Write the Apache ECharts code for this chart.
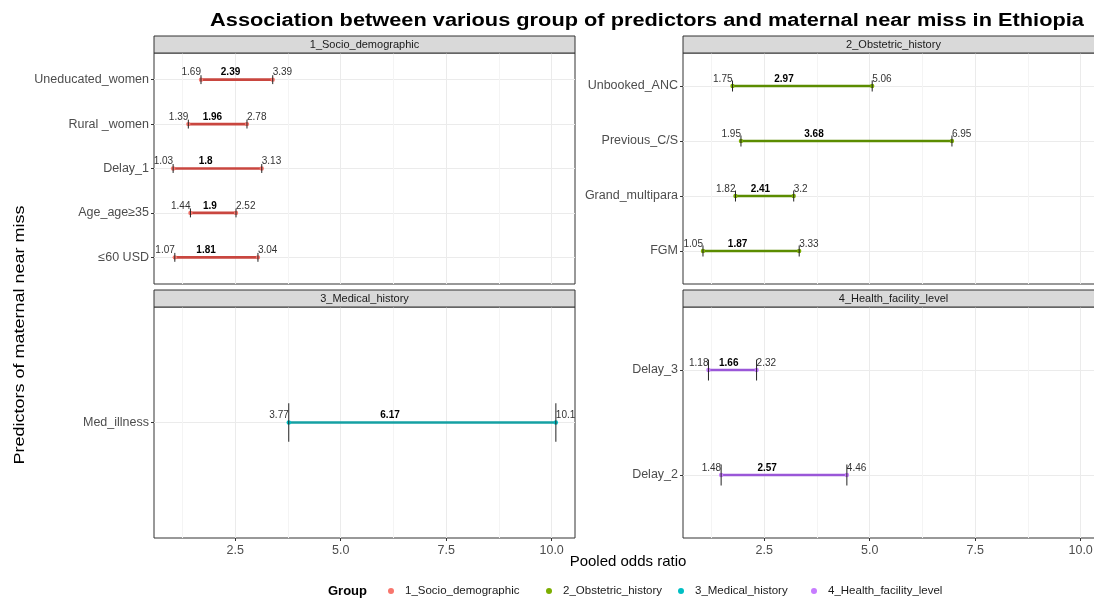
<!DOCTYPE html>
<html lang="en">
<head>
  <meta charset="UTF-8">
  <title>Maternal near miss predictors</title>
  <script src="https://cdn.jsdelivr.net/npm/echarts@6/dist/echarts.min.js"></script>
  <style>
    html, body { margin: 0; padding: 0; background: #fff; }
    #chart { width: 1094px; height: 598px; }
  </style>
</head>
<body>
  <div id="chart"></div>
  <script>
    // data
    const groups = ['1_Socio_demographic', '2_Obstetric_history', '3_Medical_history', '4_Health_facility_level']

    const socioCats = ['Uneducated_women', 'Rural _women', 'Delay_1', 'Age_age≥35', '≤60 USD']
    const socioLow = [1.69, 1.39, 1.03, 1.44, 1.07]
    const socioOR = [2.39, 1.96, 1.8, 1.9, 1.81]
    const socioHigh = [3.39, 2.78, 3.13, 2.52, 3.04]

    const obstCats = ['Unbooked_ANC', 'Previous_C/S', 'Grand_multipara', 'FGM']
    const obstLow = [1.75, 1.95, 1.82, 1.05]
    const obstOR = [2.97, 3.68, 2.41, 1.87]
    const obstHigh = [5.06, 6.95, 3.2, 3.33]

    const medCats = ['Med_illness']
    const medLow = [3.77]
    const medOR = [6.17]
    const medHigh = [10.1]

    const facCats = ['Delay_3', 'Delay_2']
    const facLow = [1.18, 1.48]
    const facOR = [1.66, 2.57]
    const facHigh = [2.32, 4.46]

    const xTicks = [2.5, 5, 7.5, 10]
    const xMinor = [1.25, 3.75, 6.25, 8.75]

    // styles
    const pointColors = ['#F8766D', '#7CAE00', '#00BFC4', '#C77CFF']
    const lineColors = ['#c9463f', '#5b8c00', '#15a0a3', '#9a57d8']
    const font = '"Liberation Sans", Arial, sans-serif'

    const panels = [
      { cats: socioCats, low: socioLow, or: socioOR, high: socioHigh, left: 154, top: 53, bottomRow: false },
      { cats: obstCats, low: obstLow, or: obstOR, high: obstHigh, left: 683, top: 53, bottomRow: false },
      { cats: medCats, low: medLow, or: medOR, high: medHigh, left: 154, top: 307, bottomRow: true },
      { cats: facCats, low: facLow, or: facOR, high: facHigh, left: 683, top: 307, bottomRow: true }
    ]
    const panelW = 421, panelH = 231, stripH = 17

    // shared x range, ggplot style 5% expansion
    const allX = [].concat(socioLow, socioHigh, obstLow, obstHigh, medLow, medHigh, facLow, facHigh)
    const dMin = Math.min(...allX), dMax = Math.max(...allX)
    const xMin = dMin - 0.05 * (dMax - dMin)
    const xMax = dMax + 0.05 * (dMax - dMin)

    function renderBar(params, api) {
      const lo = api.value(0), mid = api.value(1), hi = api.value(2), y = api.value(3)
      const pL = api.coord([lo, y])
      const pM = api.coord([mid, y])
      const pH = api.coord([hi, y])
      const half = Math.abs(api.coord([lo, y + 0.1])[1] - api.coord([lo, y - 0.1])[1]) / 2
      const i = params.seriesIndex
      const lineC = lineColors[i], ptC = pointColors[i]
      const txtY = pL[1] - 2
      return {
        type: 'group',
        children: [
          { type: 'line', shape: { x1: pL[0], y1: pL[1], x2: pH[0], y2: pH[1] }, style: { stroke: lineC, lineWidth: 2.6 } },
          { type: 'circle', shape: { cx: pL[0], cy: pL[1], r: 2.2 }, style: { fill: ptC } },
          { type: 'circle', shape: { cx: pH[0], cy: pH[1], r: 2.2 }, style: { fill: ptC } },
          { type: 'line', shape: { x1: pL[0], y1: pL[1] - half, x2: pL[0], y2: pL[1] + half }, style: { stroke: '#222', lineWidth: 1 } },
          { type: 'line', shape: { x1: pH[0], y1: pH[1] - half, x2: pH[0], y2: pH[1] + half }, style: { stroke: '#222', lineWidth: 1 } },
          { type: 'text', x: pL[0], y: txtY, style: { text: String(lo), align: 'right', verticalAlign: 'bottom', fontSize: 10, fontFamily: font, fill: '#333' } },
          { type: 'text', x: pM[0], y: txtY, style: { text: String(mid), align: 'center', verticalAlign: 'bottom', fontSize: 10, fontWeight: 'bold', fontFamily: font, fill: '#000' } },
          { type: 'text', x: pH[0], y: txtY, style: { text: String(hi), align: 'left', verticalAlign: 'bottom', fontSize: 10, fontFamily: font, fill: '#333' } }
        ]
      }
    }

    const grid = [], xAxis = [], yAxis = [], series = [], graphic = [], legend = []

    panels.forEach((p, i) => {
      grid.push({
        left: p.left, top: p.top, width: panelW, height: panelH,
        outerBoundsMode: 'none',
        show: true, backgroundColor: '#fff', borderColor: '#333', borderWidth: 1
      })
      // major x
      xAxis.push({
        type: 'value', gridIndex: i, min: xMin, max: xMax, position: 'bottom',
        axisLine: { show: false },
        axisTick: { show: p.bottomRow, customValues: xTicks, length: 3, lineStyle: { color: '#333' } },
        axisLabel: {
          show: p.bottomRow, customValues: xTicks, color: '#4d4d4d', fontSize: 12.5, fontFamily: font, margin: 6,
          formatter: v => Number(v).toFixed(1)
        },
        splitLine: { show: true, lineStyle: { color: '#ebebeb', width: 1 } }
      })
      // minor x grid lines
      xAxis.push({
        type: 'value', gridIndex: i, min: xMin, max: xMax, position: 'top',
        axisLine: { show: false },
        axisTick: { show: false, customValues: xMinor },
        axisLabel: { show: false },
        splitLine: { show: true, lineStyle: { color: '#f4f4f4', width: 1 } }
      })
      const idx = p.cats.map((c, k) => k + 1)
      yAxis.push({
        type: 'value', gridIndex: i, inverse: true, min: 0.4, max: p.cats.length + 0.6,
        axisLine: { show: false },
        axisTick: { show: true, customValues: idx, length: 3, lineStyle: { color: '#333' } },
        axisLabel: {
          customValues: idx, color: '#4d4d4d', fontSize: 12.5, fontFamily: font, margin: 5,
          formatter: v => p.cats[Math.round(v) - 1]
        },
        splitLine: { show: true, lineStyle: { color: '#ebebeb', width: 1 } }
      })
      series.push({
        name: groups[i],
        type: 'custom',
        xAxisIndex: i * 2,
        yAxisIndex: i,
        itemStyle: { color: pointColors[i] },
        encode: { x: [0, 1, 2], y: 3 },
        renderItem: renderBar,
        clip: false,
        data: p.cats.map((c, k) => [p.low[k], p.or[k], p.high[k], k + 1])
      })
      // facet strip
      graphic.push({
        type: 'rect', z: 10,
        shape: { x: p.left, y: p.top - stripH, width: panelW, height: stripH },
        style: { fill: '#d9d9d9', stroke: '#333', lineWidth: 1 }
      })
      graphic.push({
        type: 'text', z: 11, x: p.left + panelW / 2, y: p.top - stripH / 2,
        style: { text: groups[i], align: 'center', verticalAlign: 'middle', fontSize: 11, fontFamily: font, fill: '#1a1a1a' }
      })
    })

    // legend, one entry per group
    const legendDotX = [391, 549, 681, 814]
    groups.forEach((g, i) => {
      legend.push({
        data: [g], left: legendDotX[i] - 3, top: 585, padding: 0,
        icon: 'circle', itemWidth: 6, itemHeight: 6, selectedMode: false,
        textStyle: { fontSize: 11.5, fontFamily: font, color: '#1a1a1a', padding: [0, 0, 0, 6] }
      })
    })

    graphic.push(
      { type: 'text', x: 647, y: 21, scaleX: 1.21, style: { text: 'Association between various group of predictors and maternal near miss in Ethiopia', fontSize: 18, fontWeight: 'bold', fontFamily: font, fill: '#000', align: 'center', verticalAlign: 'middle' } },
      { type: 'text', x: 328, y: 591, style: { text: 'Group', fontSize: 13, fontWeight: 'bold', fontFamily: font, fill: '#000', verticalAlign: 'middle' } },
      { type: 'text', x: 628, y: 562, style: { text: 'Pooled odds ratio', fontSize: 15, fontFamily: font, fill: '#000', align: 'center', verticalAlign: 'middle' } },
      { type: 'text', x: 20, y: 335, rotation: Math.PI / 2, scaleX: 1.2, style: { text: 'Predictors of maternal near miss', fontSize: 15, fontFamily: font, fill: '#000', align: 'center', verticalAlign: 'middle' } }
    )

    const myChart = echarts.init(document.getElementById('chart'))
    myChart.setOption({
      animation: false,
      backgroundColor: '#fff',
      grid, xAxis, yAxis, series, legend, graphic
    })
  </script>
</body>
</html>
